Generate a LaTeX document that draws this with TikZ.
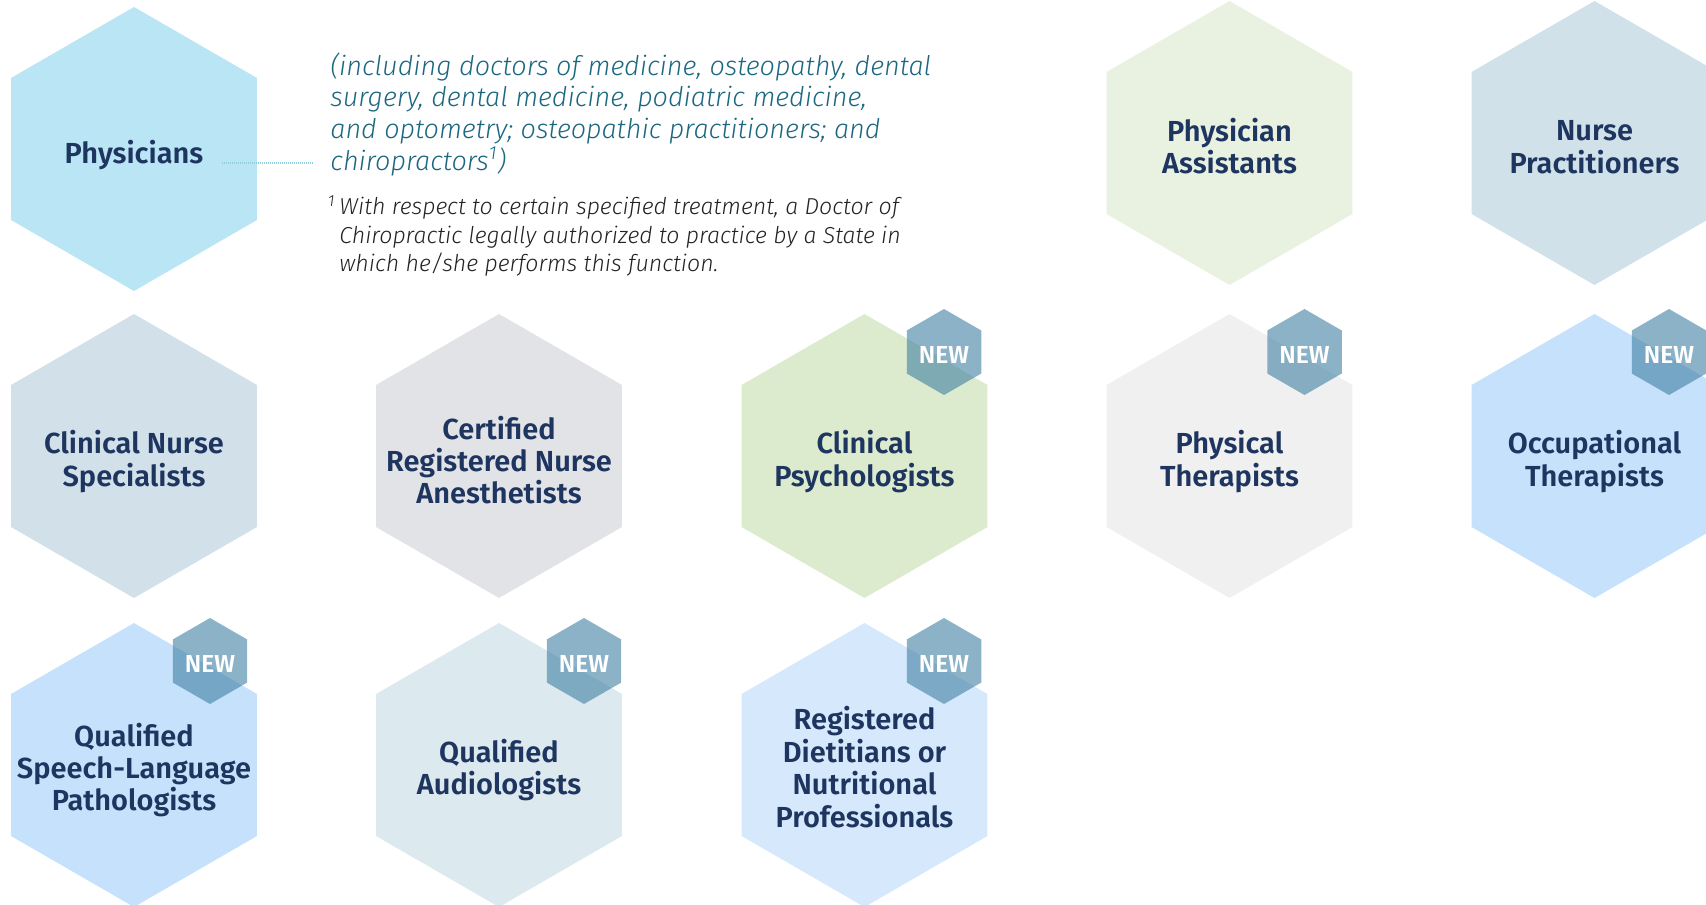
\documentclass[tikz,border=0pt]{standalone}
\usepackage{fontspec}
\setmainfont{Fira Sans}
\newfontfamily\semib{Fira Sans SemiBold}
\newfontfamily\lightf{Fira Sans Light}
\usetikzlibrary{shapes.geometric}
\definecolor{navy}{HTML}{1E3560}
\definecolor{tealtext}{HTML}{1B6780}
\definecolor{foottext}{HTML}{222222}
\definecolor{dotcol}{HTML}{8FCFDC}
\definecolor{badgeblue}{HTML}{3F7FA3}
\definecolor{cPhys}{HTML}{B9E5F4}
\definecolor{cPA}{HTML}{E9F2E1}
\definecolor{cNP}{HTML}{D1E1E9}
\definecolor{cCNS}{HTML}{D1E0E9}
\definecolor{cCRNA}{HTML}{E2E3E6}
\definecolor{cCP}{HTML}{DCEBCD}
\definecolor{cPT}{HTML}{F0F0F0}
\definecolor{cOT}{HTML}{C6E1FB}
\definecolor{cSLP}{HTML}{C6E1FB}
\definecolor{cAud}{HTML}{DCE9EF}
\definecolor{cDiet}{HTML}{D5E8FC}
\begin{document}
\begin{tikzpicture}[x=0.5pt,y=-0.5pt,
  hexa/.style={regular polygon, regular polygon sides=6, shape border rotate=90,
    minimum size=142pt, inner sep=0pt, outer sep=0pt, draw=none},
  badge/.style={regular polygon, regular polygon sides=6, shape border rotate=90,
    minimum size=43pt, inner sep=0pt, outer sep=0pt, fill=badgeblue, fill opacity=0.6,
    text opacity=1, text=white},
  badgetxt/.style={text=white, inner sep=0pt, yshift=-1.3pt,
    font=\semib\fontsize{12.3}{13}\selectfont},
  lbl/.style={text=navy, align=center, inner sep=0pt,
    font=\semib\fontsize{14.5}{16.2}\selectfont},
  dotline/.style={draw=dotcol, line width=0.6pt, dash pattern=on 0.5pt off 0.5pt}
]
\useasboundingbox (0,0) rectangle (1706,904);
\clip (0,0) rectangle (1706,904);

% big hexagons
\node[hexa, fill=cPhys] (hPhys) at (134,149) {};
\node[hexa, fill=cPA]   (hPA)   at (1229.5,143) {};
\node[hexa, fill=cNP]   (hNP)   at (1594.5,143) {};
\node[hexa, fill=cCNS]  (hCNS)  at (134,456) {};
\node[hexa, fill=cCRNA] (hCRNA) at (499,456) {};
\node[hexa, fill=cCP]   (hCP)   at (864.5,456) {};
\node[hexa, fill=cPT]   (hPT)   at (1229.5,456) {};
\node[hexa, fill=cOT]   (hOT)   at (1594.5,456) {};
\node[hexa, fill=cSLP]  (hSLP)  at (134,765) {};
\node[hexa, fill=cAud]  (hAud)  at (499,765) {};
\node[hexa, fill=cDiet] (hDiet) at (864.5,765) {};

% labels
\node[lbl, yshift=-3pt]   (lPhys) at (hPhys) {Physicians};
\node[lbl, yshift=-1.6pt] (lPA)   at (hPA)   {Physician\\Assistants};
\node[lbl, yshift=-2pt]   (lNP)   at (hNP)   {Nurse\\Practitioners};
\node[lbl, yshift=-2.7pt] (lCNS)  at (hCNS)  {Clinical Nurse\\Specialists};
\node[lbl, yshift=-2pt]   (lCRNA) at (hCRNA) {Certified\\Registered Nurse\\Anesthetists};
\node[lbl, yshift=-2.7pt] (lCP)   at (hCP)   {Clinical\\Psychologists};
\node[lbl, yshift=-2.7pt] (lPT)   at (hPT)   {Physical\\Therapists};
\node[lbl, yshift=-2.7pt] (lOT)   at (hOT)   {Occupational\\Therapists};
\node[lbl, yshift=-2.5pt] (lSLP)  at (hSLP)  {Qualified\\Speech-Language\\Pathologists};
\node[lbl, yshift=-2.5pt] (lAud)  at (hAud)  {Qualified\\Audiologists};
\node[lbl, yshift=-1pt]   (lDiet) at (hDiet) {Registered\\Dietitians or\\Nutritional\\Professionals};

% NEW badges
\node[badge] (bCP)   at (944,352)    {};
\node[badge] (bPT)   at (1304.5,352) {};
\node[badge] (bOT)   at (1669,352)   {};
\node[badge] (bSLP)  at (210,661)    {};
\node[badge] (bAud)  at (584,661)    {};
\node[badge] (bDiet) at (944,661)    {};
\node[badgetxt] at (bCP)   {NEW};
\node[badgetxt] at (bPT)   {NEW};
\node[badgetxt] at (bOT)   {NEW};
\node[badgetxt] at (bSLP)  {NEW};
\node[badgetxt] at (bAud)  {NEW};
\node[badgetxt] at (bDiet) {NEW};

% explanatory text
\node[anchor=north west, inner sep=0pt, align=left, text=tealtext,
  font=\lightf\itshape\fontsize{13.5}{15.85}\selectfont] (incl) at (330,52)
  {(including doctors of medicine, osteopathy, dental\\
   surgery, dental medicine, podiatric medicine,\\
   and optometry; osteopathic practitioners; and\\
   chiropractors\textsuperscript{1})};
\node[anchor=north west, inner sep=0pt, align=left, text=foottext,
  font=\lightf\itshape\fontsize{11.55}{14.25}\selectfont] (foot) at (339,195)
  {\llap{\textsuperscript{1}\,}With respect to certain specified treatment, a Doctor of\\
   Chiropractic legally authorized to practice by a State in\\
   which he/she performs this function.};

% dotted connector
\coordinate (d1) at (222,163);
\coordinate (d2) at (313,163);
\draw[dotline] (d1) -- (d2);
\end{tikzpicture}
\end{document}
